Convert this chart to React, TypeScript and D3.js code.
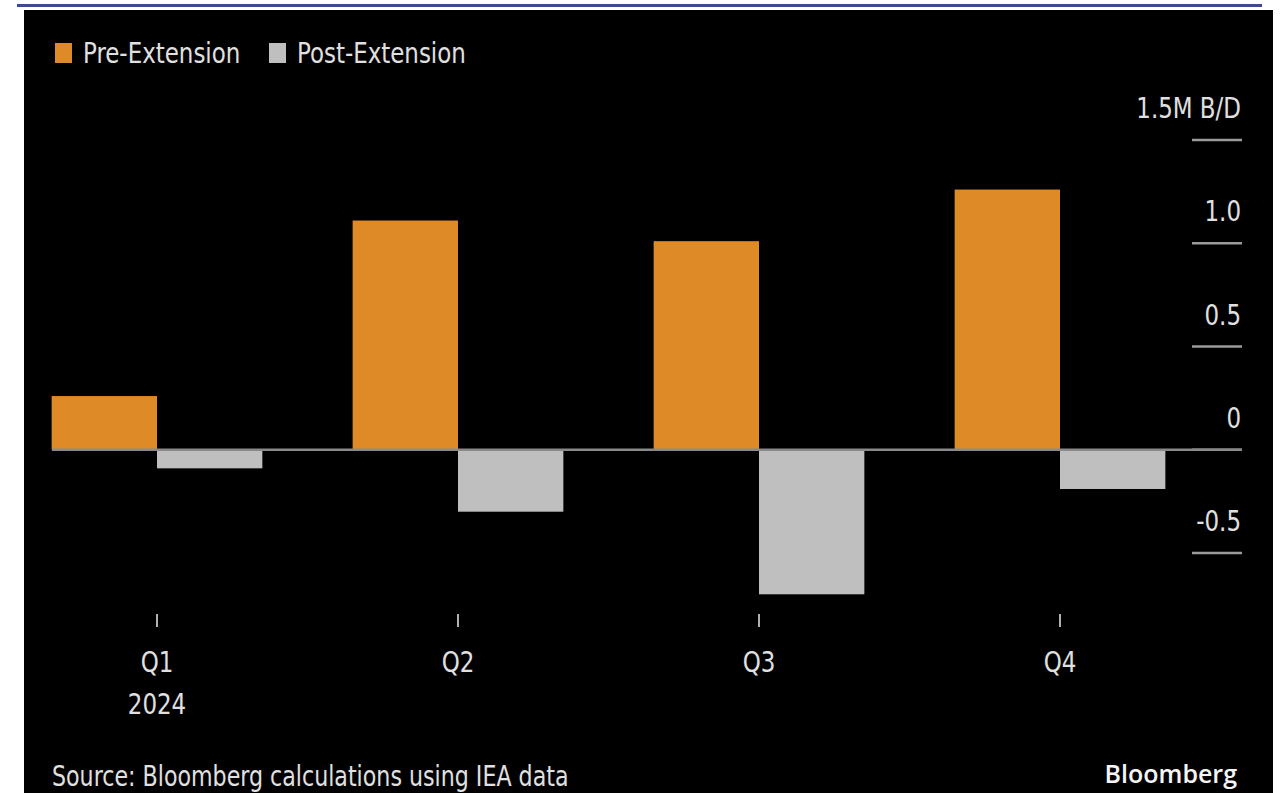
import React from "react";
import * as d3 from "d3";

const categories = ["Q1", "Q2", "Q3", "Q4"];
const subLabels = ["2024", "", "", ""];
const preExtension = [0.26, 1.11, 1.01, 1.26];
const postExtension = [-0.09, -0.3, -0.7, -0.19];
const yTicks = [-0.5, 0, 0.5, 1.0, 1.5];
const yTickLabels = ["-0.5", "0", "0.5", "1.0", "1.5M B/D"];
const seriesNames = ["Pre-Extension", "Post-Extension"];
const seriesColors = ["#DE8A26", "#BFBFBF"];

const W = 1284;
const H = 793;
const FONT = "'DejaVu Sans Condensed', 'Liberation Sans Narrow', sans-serif";
const SX = 0.88;

function NText({
  x,
  y,
  anchor = "start",
  size = 29,
  children,
}: {
  x: number;
  y: number;
  anchor?: "start" | "middle" | "end";
  size?: number;
  children: React.ReactNode;
}) {
  return (
    <text
      transform={`translate(${x},${y}) scale(${SX},1)`}
      fontSize={size}
      fill="#e0e0e0"
      textAnchor={anchor}
      fontFamily={FONT}
    >
      {children}
    </text>
  );
}

export default function App() {
  const y = d3.scaleLinear().domain([-0.5, 1.5]).range([553, 140]);
  const x = d3.scalePoint<string>().domain(categories).range([157, 1060]);
  const step = x.step();
  const barW = step * 0.35;
  const series = [preExtension, postExtension];

  return (
    <svg
      width={W}
      height={H}
      style={{ position: "absolute", left: 0, top: 0, background: "#fff" }}
    >
      <rect x={17} y={4} width={1245} height={3} fill="#3B4A91" />
      <rect x={24} y={10} width={1249} height={783} fill="#000" />

      {/* legend */}
      {seriesNames.map((name, i) => {
        const lx = i === 0 ? 55 : 269;
        return (
          <g key={name}>
            <rect x={lx} y={43} width={17} height={20} fill={seriesColors[i]} />
            <NText x={lx + 28} y={63}>
              {name}
            </NText>
          </g>
        );
      })}

      {/* y axis ticks */}
      {yTicks.map((t, i) => (
        <g key={t}>
          <line x1={1192} x2={1242} y1={y(t)} y2={y(t)} stroke="#9a9a9a" strokeWidth={2.5} />
          <NText x={1241} y={y(t) - 22} anchor="end">
            {yTickLabels[i]}
          </NText>
        </g>
      ))}

      {/* bars */}
      {categories.map((c, ci) =>
        series.map((s, si) => {
          const v = s[ci];
          const bx = (x(c) as number) - barW + si * barW;
          return (
            <rect
              key={c + si}
              x={bx}
              y={Math.min(y(v), y(0))}
              width={barW}
              height={Math.abs(y(v) - y(0))}
              fill={seriesColors[si]}
            />
          );
        })
      )}

      {/* zero line */}
      <line x1={52} x2={1242} y1={y(0)} y2={y(0)} stroke="#8a8a8a" strokeWidth={2.5} />

      {/* x axis */}
      {categories.map((c, ci) => (
        <g key={c}>
          <line x1={x(c)} x2={x(c)} y1={614} y2={627} stroke="#b0b0b0" strokeWidth={2} />
          <NText x={x(c) as number} y={672} anchor="middle">
            {c}
          </NText>
          {subLabels[ci] && (
            <NText x={x(c) as number} y={714} anchor="middle">
              {subLabels[ci]}
            </NText>
          )}
        </g>
      ))}

      <NText x={52} y={786} size={28}>
        Source: Bloomberg calculations using IEA data
      </NText>
      <text
        x={1237}
        y={783}
        fontSize={25}
        fontWeight={600}
        fill="#f5f5f5"
        textAnchor="end"
        fontFamily="'Open Sans', 'DejaVu Sans', sans-serif"
      >
        Bloomberg
      </text>
    </svg>
  );
}
